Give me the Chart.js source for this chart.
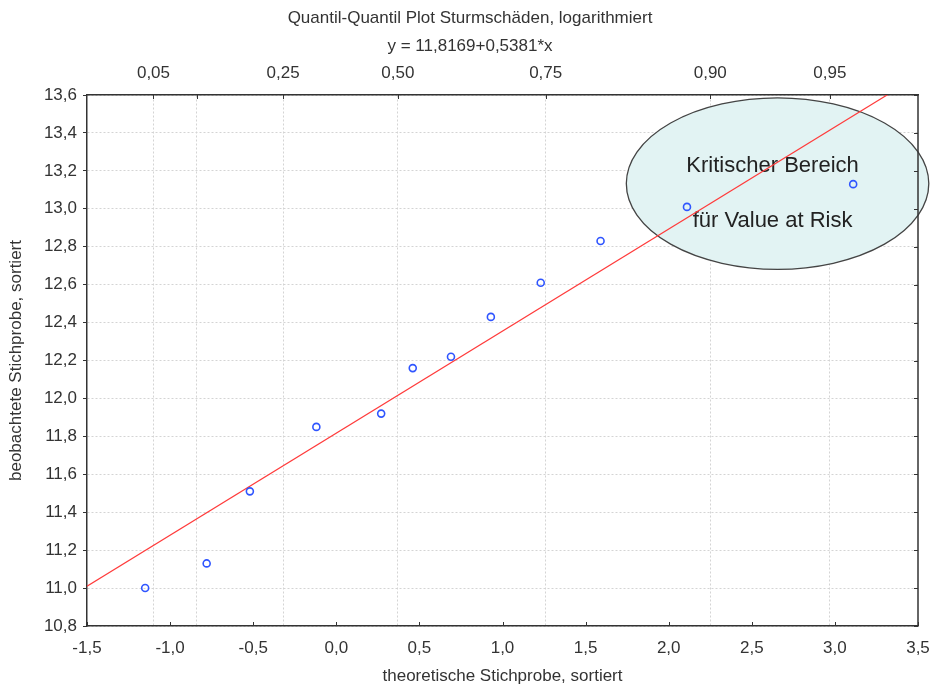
<!DOCTYPE html>
<html>
<head>
<meta charset="utf-8">
<script src="https://cdn.jsdelivr.net/npm/chart.js@4"></script>
<style>
  html, body { margin: 0; padding: 0; background: #fff; }
  #wrap { width: 935px; height: 691px; }
</style>
</head>
<body>
<div id="wrap"><canvas id="qq"></canvas></div>
<script>
const theoQuantiles = [-1.15, -0.78, -0.52, -0.12, 0.27, 0.46, 0.69, 0.93, 1.23, 1.59, 2.11, 3.11];
const obsValues     = [11.00, 11.13, 11.51, 11.85, 11.92, 12.16, 12.22, 12.43, 12.61, 12.83, 13.01, 13.13];

// fitted line from the title: y = 11,8169 + 0,5381*x
const fitIntercept = 11.8169;
const fitSlope = 0.5381;
const fitRangeX = [-1.5, 3.5];

// top axis: probability ticks (position on the z axis + label)
const probTickPos    = [-1.10, -0.84, -0.32, 0.37, 1.26, 2.25, 2.97];
const probTickLabels = ['0,05', '', '0,25', '0,50', '0,75', '0,90', '0,95'];

// the "critical region" ellipse, in data units
const critCenter = [2.655, 13.133];
const critRadius = [0.91, 0.452];
const critText = ['Kritischer Bereich', 'für Value at Risk'];

const titleLines = ['Quantil-Quantil Plot Sturmschäden, logarithmiert', 'y = 11,8169+0,5381*x'];

const textCol = '#333';
const fontFam = '"Liberation Sans", Arial, sans-serif';
const commaFmt = v => Number(v).toFixed(1).replace('.', ',');

const fitPoints = fitRangeX.map(x => ({ x: x, y: fitIntercept + fitSlope * x }));
const qqPoints = theoQuantiles.map((x, i) => ({ x: x, y: obsValues[i] }));

// ellipse behind the points, on top of the grid
const ellipsePlugin = {
  id: 'critEllipse',
  beforeDatasetsDraw(chart) {
    const ctx = chart.ctx;
    const xs = chart.scales.x, ys = chart.scales.y;
    const cx = xs.getPixelForValue(critCenter[0]);
    const cy = ys.getPixelForValue(critCenter[1]);
    const rx = Math.abs(xs.getPixelForValue(critCenter[0] + critRadius[0]) - cx);
    const ry = Math.abs(ys.getPixelForValue(critCenter[1] + critRadius[1]) - cy);
    ctx.save();
    ctx.beginPath();
    ctx.ellipse(cx, cy, rx, ry, 0, 0, Math.PI * 2);
    ctx.fillStyle = '#e2f3f3';
    ctx.fill();
    ctx.lineWidth = 1.3;
    ctx.strokeStyle = '#444';
    ctx.stroke();
    ctx.fillStyle = '#222';
    ctx.font = '22px ' + fontFam;
    ctx.textAlign = 'center';
    ctx.textBaseline = 'middle';
    ctx.fillText(critText[0], cx - 5, cy - 18);
    ctx.fillText(critText[1], cx - 5, cy + 37);
    ctx.restore();
  }
};

// right border, inward tick marks, and the title lines
const framePlugin = {
  id: 'frame',
  afterDraw(chart) {
    const ctx = chart.ctx;
    const a = chart.chartArea;
    const xs = chart.scales.x, x2 = chart.scales.x2, ys = chart.scales.y;
    ctx.save();
    ctx.strokeStyle = textCol;
    ctx.lineWidth = 1.5;
    ctx.beginPath();
    ctx.moveTo(a.right, a.top);
    ctx.lineTo(a.right, a.bottom);
    ctx.stroke();
    ctx.lineWidth = 1;
    ctx.beginPath();
    xs.ticks.forEach(t => {
      const px = Math.round(xs.getPixelForValue(t.value)) + 0.5;
      ctx.moveTo(px, a.bottom);
      ctx.lineTo(px, a.bottom - 4);
    });
    x2.ticks.forEach(t => {
      const px = Math.round(x2.getPixelForValue(t.value)) + 0.5;
      ctx.moveTo(px, a.top);
      ctx.lineTo(px, a.top + 4);
    });
    ys.ticks.forEach(t => {
      const py = Math.round(ys.getPixelForValue(t.value)) + 0.5;
      ctx.moveTo(a.right, py);
      ctx.lineTo(a.right - 4, py);
    });
    ctx.stroke();

    ctx.fillStyle = textCol;
    ctx.font = '17px ' + fontFam;
    ctx.textAlign = 'center';
    ctx.textBaseline = 'middle';
    ctx.fillText(titleLines[0], 470, 18);
    ctx.fillText(titleLines[1], 470, 46);
    ctx.restore();
  }
};

const gridDots = { dash: [2, 2] };

new Chart(document.getElementById('qq'), {
  type: 'scatter',
  data: {
    datasets: [
      {
        type: 'line',
        label: 'Fit',
        data: fitPoints,
        borderColor: '#ff3b3b',
        borderWidth: 1.2,
        pointRadius: 0,
        fill: false,
        order: 2
      },
      {
        label: 'Stichprobe',
        data: qqPoints,
        pointStyle: 'circle',
        pointRadius: 3.5,
        borderWidth: 1.6,
        borderColor: '#2f55ff',
        backgroundColor: 'rgba(255,255,255,0)',
        order: 1
      }
    ]
  },
  options: {
    responsive: true,
    maintainAspectRatio: false,
    animation: false,
    layout: { padding: { left: 0, right: 17, top: 0, bottom: 0 } },
    plugins: {
      legend: { display: false },
      tooltip: { enabled: false },
      title: { display: false }
    },
    scales: {
      x: {
        type: 'linear',
        position: 'bottom',
        min: -1.5,
        max: 3.5,
        ticks: {
          stepSize: 0.5,
          padding: 12,
          color: textCol,
          font: { family: fontFam, size: 17 },
          callback: v => commaFmt(v)
        },
        grid: { display: false, drawTicks: false },
        border: { display: true, color: textCol, width: 1.5 },
        title: {
          display: true,
          text: 'theoretische Stichprobe, sortiert',
          color: textCol,
          font: { family: fontFam, size: 17 },
          padding: { top: 0, bottom: 4 }
        },
        afterFit: s => { s.height = 65; s.paddingLeft = 0; s.paddingRight = 0; }
      },
      x2: {
        type: 'linear',
        position: 'top',
        min: -1.5,
        max: 3.5,
        afterBuildTicks: s => { s.ticks = probTickPos.map(v => ({ value: v })); },
        ticks: {
          padding: 11,
          color: textCol,
          font: { family: fontFam, size: 17 },
          callback: (v, i) => probTickLabels[i]
        },
        grid: { drawOnChartArea: true, drawTicks: false, color: '#d4d4d4', lineWidth: 1 },
        border: Object.assign({ display: true, color: textCol, width: 1.5 }, gridDots),
        afterFit: s => { s.height = 95; s.paddingLeft = 0; s.paddingRight = 0; }
      },
      y: {
        type: 'linear',
        position: 'left',
        min: 10.8,
        max: 13.6,
        ticks: {
          stepSize: 0.2,
          padding: 6,
          color: textCol,
          font: { family: fontFam, size: 17 },
          callback: v => commaFmt(v)
        },
        grid: { color: '#d4d4d4', lineWidth: 1, tickLength: 4, tickColor: textCol, tickWidth: 1 },
        border: Object.assign({ display: true, color: textCol, width: 1.5 }, gridDots),
        title: {
          display: true,
          text: 'beobachtete Stichprobe, sortiert',
          color: textCol,
          font: { family: fontFam, size: 17 },
          padding: { top: 6, bottom: 0 }
        },
        afterFit: s => { s.width = 87; s.paddingTop = 0; s.paddingBottom = 0; }
      }
    }
  },
  plugins: [ellipsePlugin, framePlugin]
});
</script>
</body>
</html>
